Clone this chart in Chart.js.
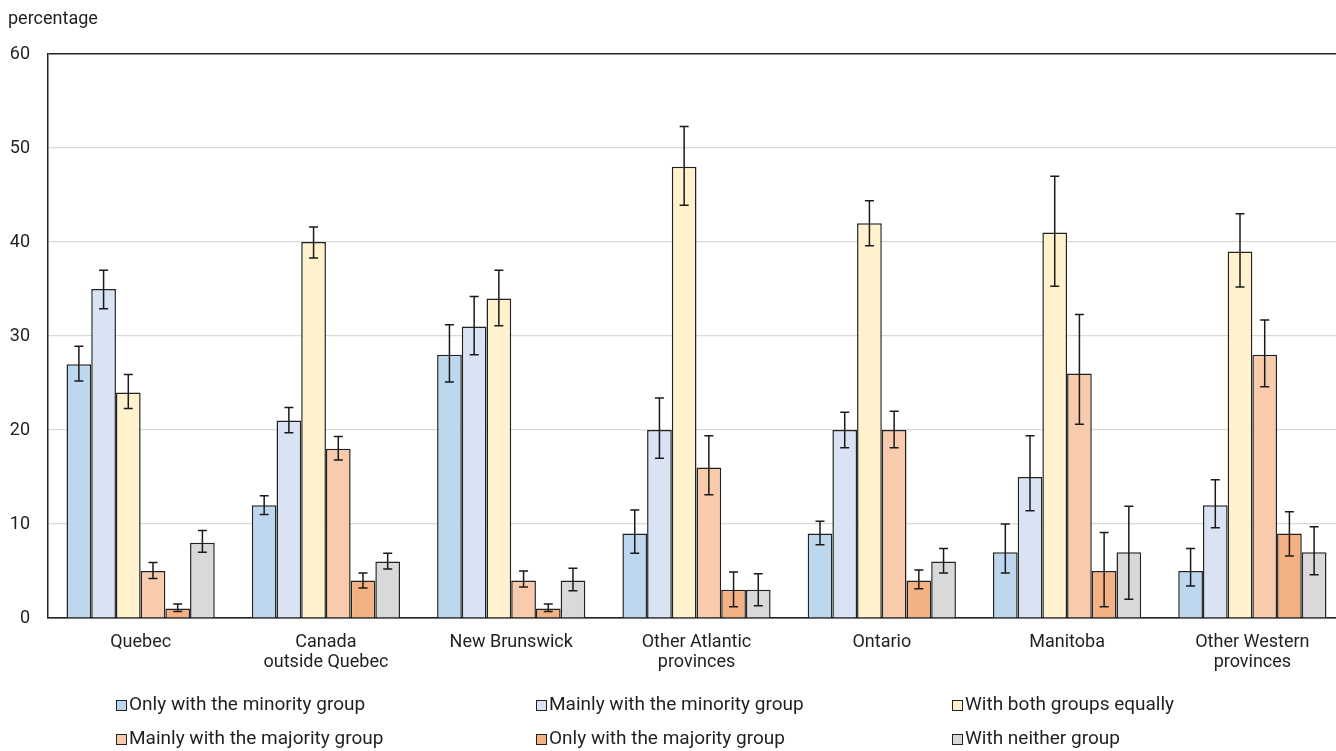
<!DOCTYPE html>
<html><head><meta charset="utf-8">
<script src="https://cdn.jsdelivr.net/npm/chart.js@4/dist/chart.umd.min.js"></script>
<style>
html,body{margin:0;padding:0;overflow:hidden;background:#fff;width:1336px;height:751px}
#wrap{position:absolute;left:0;top:0;width:1346px;height:751px}
</style></head><body>
<div id="wrap"><canvas id="c"></canvas></div>
<script>
const categories = [['Quebec'], ['Canada', 'outside Quebec'], ['New Brunswick'], ['Other Atlantic', 'provinces'], ['Ontario'], ['Manitoba'], ['Other Western', 'provinces']];
const seriesNames = ['Only with the minority group', 'Mainly with the minority group', 'With both groups equally', 'Mainly with the majority group', 'Only with the majority group', 'With neither group'];
const yTicks = [0, 10, 20, 30, 40, 50, 60];
const yTitle = 'percentage';

const onlyMinority      = [27, 12, 28, 9, 9, 7, 5];
const onlyMinorityLow   = [25.2, 11.0, 25.1, 6.9, 7.8, 4.8, 3.4];
const onlyMinorityHigh  = [28.9, 13.0, 31.2, 11.5, 10.3, 10.0, 7.4];

const mainlyMinority     = [35, 21, 31, 20, 20, 15, 12];
const mainlyMinorityLow  = [32.9, 19.7, 28.0, 17.0, 18.1, 11.4, 9.6];
const mainlyMinorityHigh = [37.0, 22.4, 34.2, 23.4, 21.9, 19.4, 14.7];

const bothEqually     = [24, 40, 34, 48, 42, 41, 39];
const bothEquallyLow  = [22.3, 38.3, 31.1, 43.9, 39.6, 35.3, 35.2];
const bothEquallyHigh = [25.9, 41.6, 37.0, 52.3, 44.4, 47.0, 43.0];

const mainlyMajority     = [5, 18, 4, 16, 20, 26, 28];
const mainlyMajorityLow  = [4.2, 16.8, 3.3, 13.1, 18.1, 20.6, 24.6];
const mainlyMajorityHigh = [5.9, 19.3, 5.0, 19.4, 22.0, 32.3, 31.7];

const onlyMajority     = [1, 4, 1, 3, 4, 5, 9];
const onlyMajorityLow  = [0.7, 3.2, 0.7, 1.2, 3.1, 1.2, 6.6];
const onlyMajorityHigh = [1.5, 4.8, 1.5, 4.9, 5.1, 9.1, 11.3];

const neither     = [8, 6, 4, 3, 6, 7, 7];
const neitherLow  = [7.0, 5.2, 2.9, 1.3, 4.8, 2.0, 4.6];
const neitherHigh = [9.3, 6.9, 5.3, 4.7, 7.4, 11.9, 9.7];

const colors = ['#BDD7EE', '#DAE3F3', '#FFF2CC', '#F8CBAD', '#F4B183', '#D9D9D9'];
const values = [onlyMinority, mainlyMinority, bothEqually, mainlyMajority, onlyMajority, neither];
const lows = [onlyMinorityLow, mainlyMinorityLow, bothEquallyLow, mainlyMajorityLow, onlyMajorityLow, neitherLow];
const highs = [onlyMinorityHigh, mainlyMinorityHigh, bothEquallyHigh, mainlyMajorityHigh, onlyMajorityHigh, neitherHigh];

const FONT = 'Roboto, "Liberation Sans", sans-serif';
const TEXT = '#231f20';

const errorBars = {
  id: 'errorBars',
  afterDatasetsDraw(chart) {
    const ctx = chart.ctx, ys = chart.scales.y;
    ctx.save();
    ctx.strokeStyle = '#1a1a1a';
    ctx.lineWidth = 1.5;
    chart.data.datasets.forEach((ds, i) => {
      const meta = chart.getDatasetMeta(i);
      meta.data.forEach((bar, j) => {
        const x = bar.x;
        const yl = ys.getPixelForValue(ds.errLow[j]);
        const yh = ys.getPixelForValue(ds.errHigh[j]);
        ctx.beginPath();
        ctx.moveTo(x, yl); ctx.lineTo(x, yh);
        ctx.moveTo(x - 4.5, yl); ctx.lineTo(x + 4.5, yl);
        ctx.moveTo(x - 4.5, yh); ctx.lineTo(x + 4.5, yh);
        ctx.stroke();
      });
    });
    ctx.restore();
  }
};

const customText = {
  id: 'customText',
  afterDraw(chart) {
    const ctx = chart.ctx;
    ctx.save();
    ctx.fillStyle = TEXT;
    ctx.font = '18px ' + FONT;
    ctx.textBaseline = 'middle';
    ctx.textAlign = 'left';
    ctx.fillText(yTitle, 8, 19);
    // legend
    ctx.font = '19px ' + FONT;
    const colX = [116, 536, 952];
    const rowY = [705, 739];
    chart.data.datasets.forEach((ds, i) => {
      const cx = colX[i % 3], cy = rowY[Math.floor(i / 3)];
      ctx.fillStyle = ds.backgroundColor;
      ctx.fillRect(cx, cy - 5, 10, 10);
      ctx.strokeStyle = '#222';
      ctx.lineWidth = 1;
      ctx.strokeRect(cx + 0.5, cy - 4.5, 10, 10);
      ctx.fillStyle = TEXT;
      ctx.fillText(ds.label, cx + 13, cy);
    });
    ctx.restore();
  }
};

new Chart(document.getElementById('c'), {
  type: 'bar',
  data: {
    labels: categories,
    datasets: seriesNames.map((name, i) => ({
      label: name,
      data: values[i],
      errLow: lows[i],
      errHigh: highs[i],
      backgroundColor: colors[i],
      borderColor: '#222',
      borderWidth: 1.5,
      categoryPercentage: 0.8,
      barPercentage: 1.0
    }))
  },
  options: {
    responsive: true,
    maintainAspectRatio: false,
    animation: false,
    layout: { padding: { top: 54, left: 0, right: 1, bottom: 0 } },
    plugins: { legend: { display: false }, tooltip: { enabled: false }, title: { display: false } },
    scales: {
      x: {
        grid: { display: false, drawTicks: false },
        border: { display: true, color: '#222', width: 1.5 },
        ticks: { color: TEXT, font: { family: FONT, size: 18, lineHeight: 1.08 }, padding: 15, maxRotation: 0, autoSkip: false },
        afterFit(scale) { scale.height = 133; }
      },
      y: {
        min: 0, max: 60,
        afterBuildTicks(scale) { scale.ticks = yTicks.map(v => ({ value: v })); },
        grid: {
          drawTicks: false,
          color: c => (c.tick.value === 60 ? '#222' : c.tick.value === 0 ? '#222' : '#d9d9d9'),
          lineWidth: c => (c.tick.value === 60 ? 1.5 : 1.2)
        },
        border: { display: true, color: '#222', width: 1.5 },
        ticks: { color: TEXT, font: { family: FONT, size: 18 }, padding: 18 },
        afterFit(scale) { scale.width = 48; }
      }
    }
  },
  plugins: [errorBars, customText]
});
</script>
</body></html>
